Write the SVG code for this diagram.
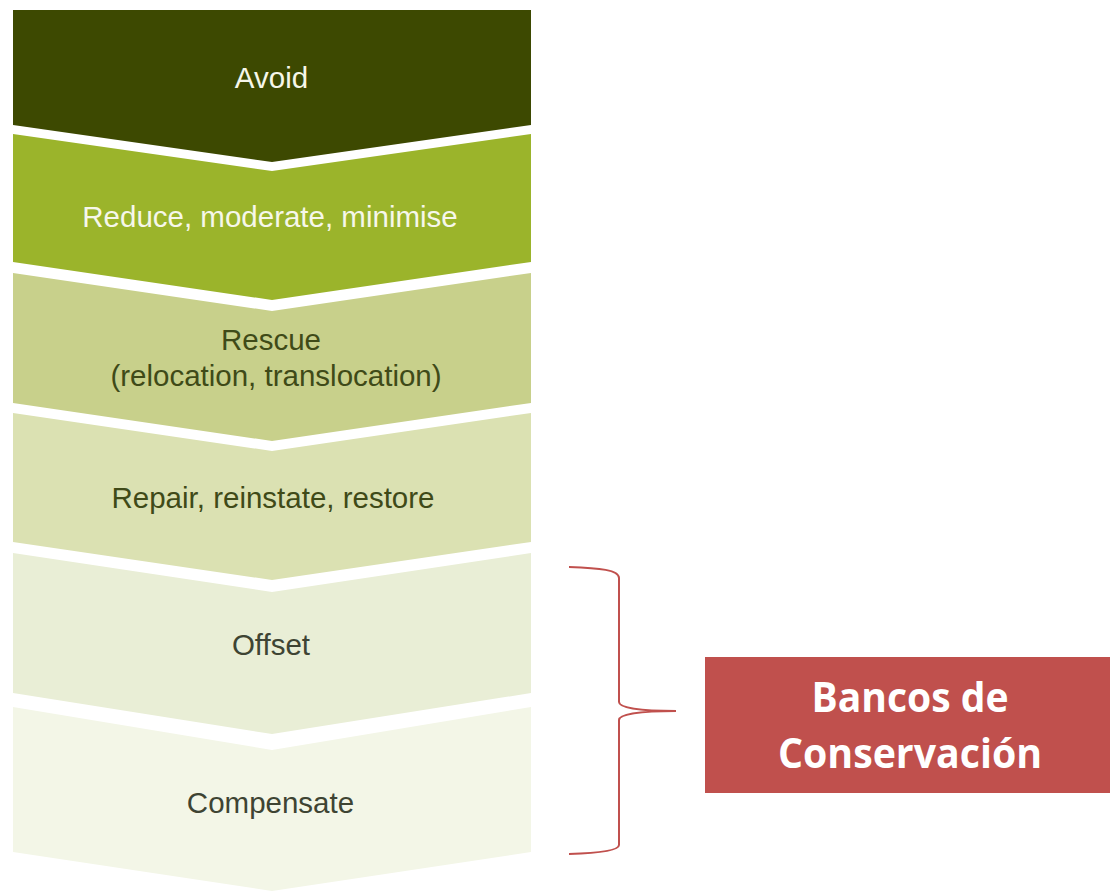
<svg xmlns="http://www.w3.org/2000/svg" width="1110" height="894" viewBox="0 0 1110 894">
<style>
.lbl{font-family:"Liberation Sans",Arial,sans-serif;font-size:29.5px;text-anchor:middle}
.light{fill:#f6f7ea}
.dark{fill:#3f4a18}
.gray{fill:#3e4433}
.box{font-family:"Open Sans","Liberation Sans",sans-serif;font-weight:bold;font-size:41px;fill:#ffffff;text-anchor:middle}
</style>
<rect width="1110" height="894" fill="#ffffff"/>
<g id="avoid">
<path d="M13,10 H531 V125 L272,162 L13,125 Z" fill="#3d4901"/>
<text class="lbl light" x="271.5" y="88">Avoid</text>
</g>
<g id="reduce">
<path d="M13,134 L272,171 L531,134 V262 L272,300 L13,262 Z" fill="#9bb42b"/>
<text class="lbl light" x="270" y="227">Reduce, moderate, minimise</text>
</g>
<g id="rescue">
<path d="M13,273 L272,311 L531,273 V403 L272,441 L13,403 Z" fill="#c8d08b"/>
<text class="lbl dark" x="271" y="350">Rescue</text>
<text class="lbl dark" x="276" y="386">(relocation, translocation)</text>
</g>
<g id="repair">
<path d="M13,413 L272,451 L531,413 V542 L272,580 L13,542 Z" fill="#dbe1b2"/>
<text class="lbl dark" x="273" y="508">Repair, reinstate, restore</text>
</g>
<g id="offset">
<path d="M13,553 L272,592 L531,553 V693 L272,734 L13,693 Z" fill="#e9eed6"/>
<text class="lbl gray" x="271" y="655">Offset</text>
</g>
<g id="compensate">
<path d="M13,707 L272,750 L531,707 V852 L272,891 L13,852 Z" fill="#f3f6e7"/>
<text class="lbl gray" x="270.5" y="813">Compensate</text>
</g>
<g id="connectors">
<path d="M569,567 C600,568 619,570 619,578 V702 C619,708 640,711 676,711 C640,711 619,714 619,720 V845 C619,850 600,853 569,854" fill="none" stroke="#c0504d" stroke-width="2"/>
</g>
<g id="bancos">
<rect x="705" y="657" width="405" height="136" fill="#c0504d"/>
<text class="box" x="910" y="712" textLength="197" lengthAdjust="spacingAndGlyphs">Bancos de</text>
<text class="box" x="910" y="768" textLength="264" lengthAdjust="spacingAndGlyphs">Conservación</text>
</g>
</svg>
